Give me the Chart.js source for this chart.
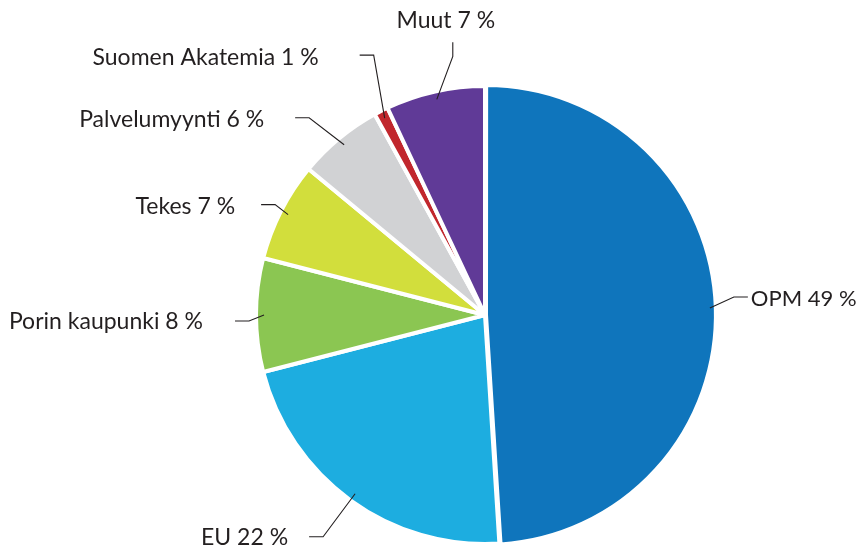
<!DOCTYPE html>
<html lang="fi">
<head>
    <meta charset="UTF-8">
    <title>Rahoituslähteet</title>
    <script src="https://cdn.jsdelivr.net/npm/chart.js"></script>
    <style>
        body {
            margin: 0;
            background-color: #fff;
        }
        canvas {
            display: block;
        }
    </style>
</head>
<body>
    <canvas id="pieCanvas" width="862" height="552"></canvas>
    <script>
        // data, clockwise from 12 o'clock
        const categories = ['OPM', 'EU', 'Porin kaupunki', 'Tekes', 'Palvelumyynti', 'Suomen Akatemia', 'Muut'];
        const shares = [49, 22, 8, 7, 6, 1, 7];
        const sliceColors = ['#0f75bc', '#1dade0', '#8bc652', '#d2de3c', '#d1d2d4', '#c1272d', '#603a97'];

        // leader line layout: elbow offset from the slice point, tail, text offset from tail end
        const leaders = [
            { elbow: [24, -11], tail: [14, 0], text: [3, 2], align: 'left' },
            { elbow: [-32, 43], tail: [-14, 0], text: [-21, 1], align: 'right' },
            { elbow: [-15, 6], tail: [-14, 0], text: [-32, 1], align: 'right' },
            { elbow: [-13, -10], tail: [-14, 0], text: [-26, 2], align: 'right' },
            { elbow: [-35, -27], tail: [-14, 0], text: [-31, 2], align: 'right' },
            { elbow: [-11, -63], tail: [-14, 0], text: [-41, 2], align: 'right' },
            { elbow: [16, -43], tail: [0, -14], text: [-7, -22], align: 'center' }
        ];

        const leaderPlugin = {
            id: 'leaders',
            afterDatasetsDraw(chart) {
                const ctx = chart.ctx;
                const arcs = chart.getDatasetMeta(0).data;
                ctx.save();
                ctx.strokeStyle = '#231f20';
                ctx.lineWidth = 1.1;
                ctx.fillStyle = '#231f20';
                ctx.textBaseline = 'middle';
                arcs.forEach((arc, i) => {
                    const p = arc.getProps(['x', 'y', 'startAngle', 'endAngle', 'outerRadius'], true);
                    const mid = (p.startAngle + p.endAngle) / 2;
                    const off = arc.options.offset || 0;
                    const r = p.outerRadius * 0.965 + off;
                    const px = p.x + Math.cos(mid) * r;
                    const py = p.y + Math.sin(mid) * r;
                    const L = leaders[i];
                    const ex = px + L.elbow[0], ey = py + L.elbow[1];
                    const tx = ex + L.tail[0], ty = ey + L.tail[1];
                    ctx.beginPath();
                    ctx.moveTo(px, py);
                    ctx.lineTo(ex, ey);
                    ctx.lineTo(tx, ty);
                    ctx.stroke();
                    ctx.font = (i === 0 ? '22px' : '23px') + ' Lato';
                    ctx.textAlign = L.align;
                    ctx.fillText(categories[i] + ' ' + shares[i] + ' %', tx + L.text[0], ty + L.text[1]);
                });
                ctx.restore();
            }
        };

        new Chart(document.getElementById('pieCanvas'), {
            type: 'pie',
            data: {
                labels: categories,
                datasets: [{
                    data: shares,
                    backgroundColor: sliceColors,
                    borderColor: '#ffffff',
                    borderWidth: 4,
                    offset: [4, 0, 0, 0, 0, 0, 0],
                    hoverOffset: 0
                }]
            },
            options: {
                responsive: false,
                animation: false,
                devicePixelRatio: 1,
                radius: 229,
                layout: {
                    padding: { left: 108, right: 0, top: 78, bottom: 0 }
                },
                plugins: {
                    legend: { display: false },
                    tooltip: { enabled: false }
                }
            },
            plugins: [leaderPlugin]
        });
    </script>
</body>
</html>
